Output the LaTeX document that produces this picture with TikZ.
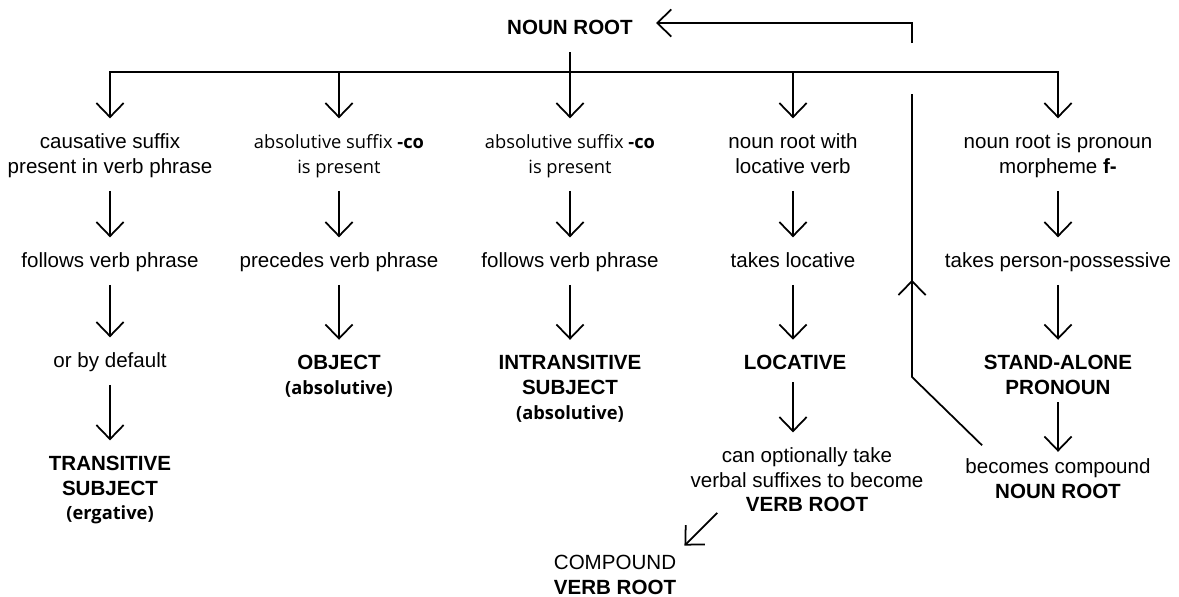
\documentclass[tikz,border=0pt]{standalone}
\usepackage{fontspec}
\setmainfont{Liberation Sans}
\newfontfamily\humfont{Open Sans}
\usetikzlibrary{arrows.meta, positioning, calc, decorations.markings}
\newcommand{\hum}[1]{{\humfont\fontsize{10.4}{14.2}\selectfont #1}}
\newcommand{\ls}{\rule[-4.3pt]{0pt}{14.2pt}}

\begin{document}
\begin{tikzpicture}[
    x = 0.02cm, y = -0.02cm,
    txt/.style = {align = center, inner sep = 0pt, font = \fontsize{11.7}{14.2}\selectfont},
    plain/.style = {line width = 1pt},
    flow/.style = {plain, -{Straight Barb[length = 8pt, width = 15.5pt]}, shorten <= 5.7pt, shorten >= 6.8pt},
    % style to put an arrow tip in the middle of a path
    midarrow/.style = {postaction = {decorate, decoration = {markings, mark = at position #1 with {\arrow{Straight Barb[length = 8pt, width = 15.5pt]}}}}},
    ]
    \useasboundingbox (0,0) rectangle (1179,596);

    \node [txt] (noun) at (570,27) {\textbf{NOUN ROOT}};

    % first column
    \node [txt] (caus)     at (110,155.6) {causative suffix\ls\\present in verb phrase\ls};
    \node [txt] (follows1) at (110,262.1) {follows verb phrase\ls};
    \node [txt] (default)  at (110,362.1) {or by default\ls};
    \node [txt] (trans)    at (110,490.1) {\textbf{TRANSITIVE}\ls\\\textbf{SUBJECT}\ls\\\hum{\textbf{(ergative)}}\ls};

    % second column
    \node [txt] (absObj)   at (339,155.6) {\hum{absolutive suffix \textbf{-co}}\ls\\\hum{is present}\ls};
    \node [txt] (precedes) at (339,262.1) {precedes verb phrase\ls};
    \node [txt] (object)   at (339,377)   {\textbf{OBJECT}\ls\\\hum{\textbf{(absolutive)}}\ls};

    % third column
    \node [txt] (absIntr)  at (570,155.6) {\hum{absolutive suffix \textbf{-co}}\ls\\\hum{is present}\ls};
    \node [txt] (follows2) at (570,262.1) {follows verb phrase\ls};
    \node [txt] (intr)     at (570,389.5) {\textbf{INTRANSITIVE}\ls\\\textbf{SUBJECT}\ls\\\hum{\textbf{(absolutive)}}\ls};

    % fourth column
    \node [txt] (locverb)  at (793,155.6) {noun root with\ls\\locative verb\ls};
    \node [txt] (takesloc) at (793,262.1) {takes locative\ls};
    \node [txt] (loc)      at (795,364.5) {\textbf{LOCATIVE}\ls};
    \node [txt] (verbsuf)  at (807,482.1) {can optionally take\ls\\verbal suffixes to become\ls\\\textbf{VERB ROOT}\ls};
    \node [txt] (cverb)    at (615,573.2) {COMPOUND\ls\\\textbf{VERB ROOT}};

    % fifth column
    \node [txt] (pron)       at (1058,155.6) {noun root is pronoun\ls\\morpheme \textbf{f-}\ls};
    \node [txt] (takesposs)  at (1058,262.1) {takes person-possessive\ls};
    \node [txt] (standalone) at (1058,377)   {\textbf{STAND-ALONE}\ls\\\textbf{PRONOUN}\ls};
    \node [txt] (becomes)    at (1058,480.6) {becomes compound\ls\\\textbf{NOUN ROOT}\ls};

    % branching bar
    \coordinate (barL) at (110,72);
    \coordinate (barR) at (1058,72);
    \draw [plain, line cap = rect] (barL) -- (barR);
    \draw [flow, shorten <= 10pt] (noun) -- (absIntr);
    \draw [flow, shorten <= 0pt] (caus |- barL) -- (caus);
    \draw [flow, shorten <= 0pt] (absObj |- barL) -- (absObj);
    \draw [flow, shorten <= 0pt] (locverb |- barL) -- (locverb);
    \draw [flow, shorten <= 0pt] (pron |- barL) -- (pron);

    % draw paths
    \draw [flow] (caus) -- (follows1);
    \draw [flow] (follows1) -- (default);
    \draw [flow] (default) -- (trans);
    \draw [flow] (absObj) -- (precedes);
    \draw [flow] (precedes) -- (object);
    \draw [flow] (absIntr) -- (follows2);
    \draw [flow] (follows2) -- (intr);
    \draw [flow] (locverb) -- (takesloc);
    \draw [flow] (takesloc) -- (takesloc |- loc.north);
    \draw [flow, shorten <= 2.8pt] (takesloc |- loc.south) -- (takesloc |- verbsuf.north);
    \draw [flow, shorten <= 0pt, shorten >= 0pt] ([shift = {(27,-7)}]verbsuf.south west) -- ([shift = {(8,-6)}]cverb.north east);
    \draw [flow] (pron) -- (takesposs);
    \draw [flow] (takesposs) -- (standalone);
    \draw [flow, shorten <= 0pt, shorten >= 2pt] (standalone) -- (becomes);

    % back to the noun root, jumping over the bar
    \coordinate (retBend) at (912,377);
    \coordinate (jmpLow)  at (912,94);
    \coordinate (jmpHigh) at (912,43);
    \coordinate (retTop)  at (912,23);
    \draw [plain, midarrow = 0.512] ([shift = {(17,-10)}]becomes.north west) -- (retBend) -- (jmpLow);
    \draw [flow, shorten <= 0pt, shorten >= 13pt] (jmpHigh) -- (retTop) -- (retTop -| noun.east);
\end{tikzpicture}
\end{document}
